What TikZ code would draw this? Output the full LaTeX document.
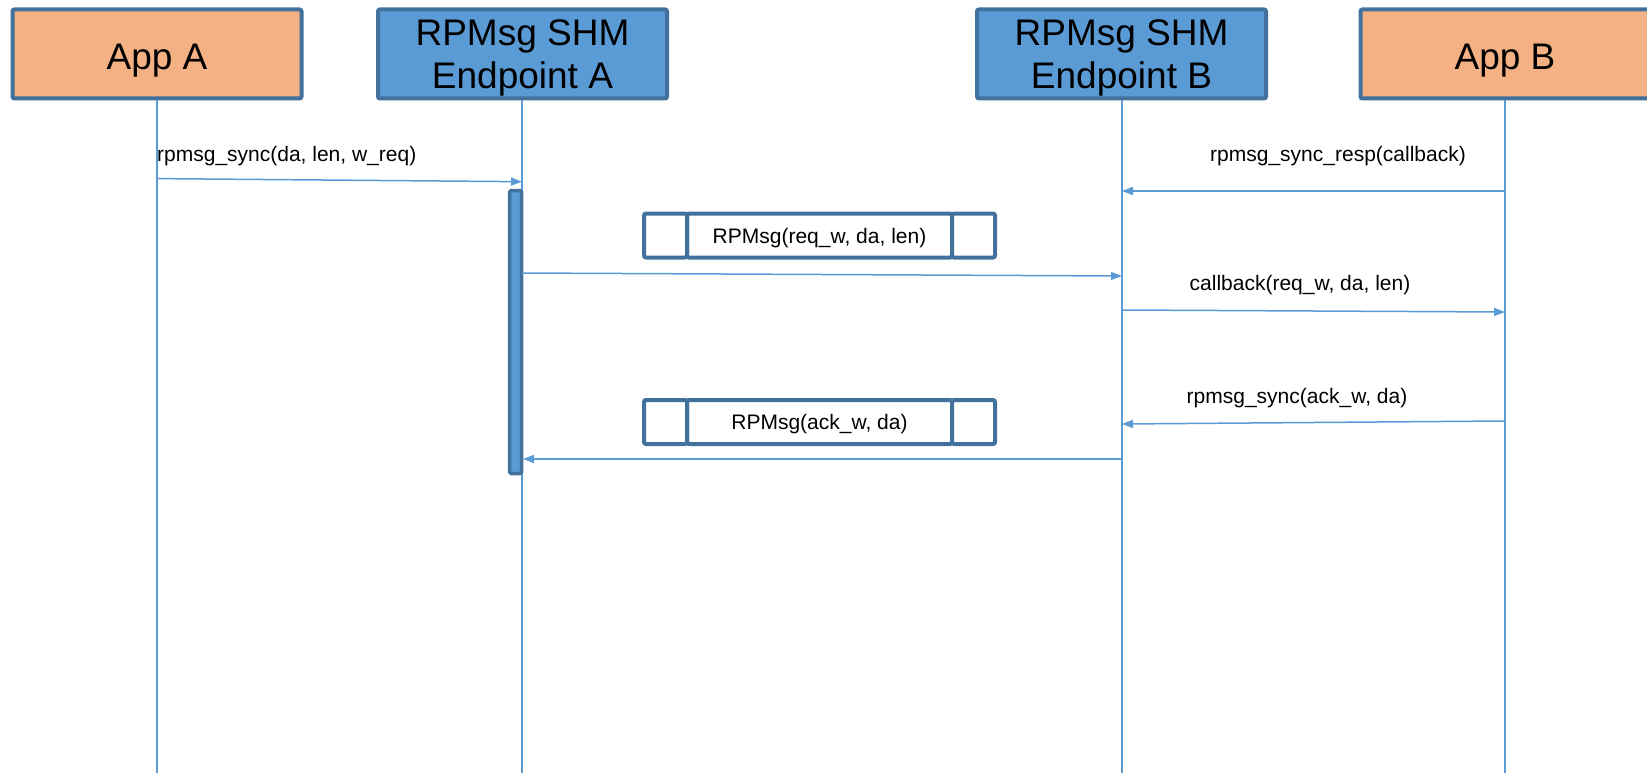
\documentclass[tikz,border=0pt]{standalone}
\usepackage{fontspec}
\setmainfont{Liberation Sans}
\usetikzlibrary{arrows.meta, positioning}
\definecolor{apporange}{HTML}{F4B183}
\definecolor{epblue}{HTML}{5B9BD5}
\definecolor{edgeblue}{HTML}{41719C}
\tikzstyle{app} = [rectangle, rounded corners=2pt, minimum width=289pt, minimum height=89pt, text height=30.6pt, text depth=0pt, text centered, draw=edgeblue, line width=4pt, fill=apporange, font=\fontsize{37}{43}\selectfont]
\tikzstyle{endpoint} = [app, fill=epblue, align=center, text height=68.4pt]
\tikzstyle{packet} = [rectangle, rounded corners=2pt, minimum height=44pt, outer sep=0pt, text depth=0pt, text centered, draw=edgeblue, line width=4pt, fill=white, font=\fontsize{21}{25}\selectfont]
\tikzstyle{busy} = [rectangle, rounded corners=1.5pt, minimum width=12pt, minimum height=283pt, inner sep=0pt, draw=edgeblue, line width=3.5pt, fill=epblue]
\tikzstyle{msg} = [inner sep=0pt, font=\fontsize{21}{25}\selectfont]
\tikzstyle{lifeline} = [draw=epblue, line width=1.5pt]
\tikzstyle{arrow} = [draw=epblue, line width=1.5pt, ->, >={Triangle[length=11pt,width=8pt]}]

\begin{document}
\begin{tikzpicture}[x=1pt, y=-1pt]
            \useasboundingbox (0,0) rectangle (1647,773);
            \node [app] at (157,54) (appA) {App A};
            \node [endpoint] at (522.5,54) (epA) {RPMsg SHM\\Endpoint A};
            \node [endpoint] at (1121.5,54) (epB) {RPMsg SHM\\Endpoint B};
            \node [app] at (1505,54) (appB) {App B};
            \coordinate (appAend) at (157,773);
            \coordinate (epAend) at (522,773);
            \coordinate (epBend) at (1122,773);
            \coordinate (appBend) at (1505,773);
            \draw [lifeline] (appA) -- (appAend);
            \draw [lifeline] (epA.south -| epAend) -- (epAend);
            \draw [lifeline] (epB.south -| epBend) -- (epBend);
            \draw [lifeline] (appB) -- (appBend);
            \node [busy] at (515.5,332) (actA) {};
            \node [packet, minimum width=265pt] at (819.5,235.5) (reqmsg) {RPMsg(req\_w, da, len)};
            \node [packet, minimum width=43pt, left=0pt of reqmsg] (reqL) {};
            \node [packet, minimum width=43pt, right=0pt of reqmsg] (reqR) {};
            \node [packet, minimum width=265pt] at (819.5,422) (ackmsg) {RPMsg(ack\_w, da)};
            \node [packet, minimum width=43pt, left=0pt of ackmsg] (ackL) {};
            \node [packet, minimum width=43pt, right=0pt of ackmsg] (ackR) {};
            \node [msg, anchor=west] at (157,156) (lsync) {rpmsg\_sync(da, len, w\_req)};
            \node [msg] at (1338,156) (lresp) {rpmsg\_sync\_resp(callback)};
            \node [msg] at (1300,285) (lcb) {callback(req\_w, da, len)};
            \node [msg] at (1297,398) (lack) {rpmsg\_sync(ack\_w, da)};
            \coordinate (syncA) at (157,178.6);
            \coordinate (syncB) at (522,181.7);
            \coordinate (respA) at (1505,191);
            \coordinate (respB) at (1122,191);
            \coordinate (reqA) at (522,273);
            \coordinate (reqB) at (1122,276);
            \coordinate (cbA) at (1122,310);
            \coordinate (cbB) at (1505,312);
            \coordinate (ackA) at (1505,421);
            \coordinate (ackB) at (1122,424);
            \coordinate (retA) at (1122,459);
            \coordinate (retB) at (523,459);
            \draw [arrow] (syncA) -- (syncB);
            \draw [arrow] (respA) -- (respB);
            \draw [arrow] (reqA) -- (reqB);
            \draw [arrow] (cbA) -- (cbB);
            \draw [arrow] (ackA) -- (ackB);
            \draw [arrow] (retA) -- (retB);
            \end{tikzpicture}
\end{document}
